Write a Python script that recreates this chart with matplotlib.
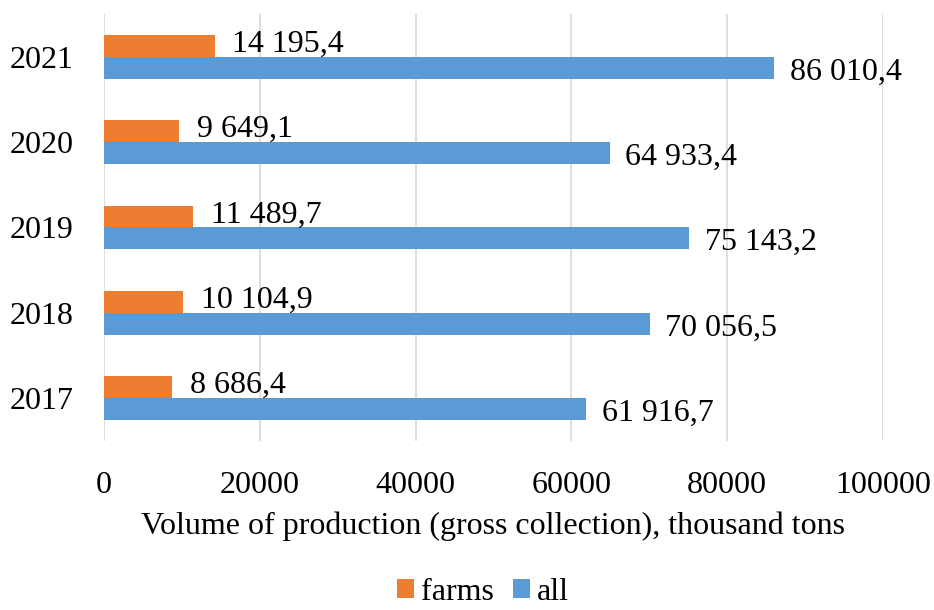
import matplotlib
matplotlib.use("Agg")
import matplotlib.pyplot as plt
import numpy as np

years = ["2017", "2018", "2019", "2020", "2021"]
farms = [8686.4, 10104.9, 11489.7, 9649.1, 14195.4]
all_vals = [61916.7, 70056.5, 75143.2, 64933.4, 86010.4]
xticks = [0, 20000, 40000, 60000, 80000, 100000]

ORANGE = "#ED7D31"
BLUE = "#5B9BD5"

plt.rcParams["font.family"] = ["Liberation Serif", "DejaVu Serif"]


def fmt(v):
    s = f"{v:,.1f}"
    return s.replace(",", " ").replace(".", ",")


fig = plt.figure(figsize=(9.34, 6.10), dpi=100)
ax = fig.add_axes([0.1113, 0.2777, 0.8341, 0.6987])

y = np.arange(len(years))
h = 0.257
ax.barh(y + h / 2, farms, height=h, color=ORANGE, label="farms", zorder=3)
ax.barh(y - h / 2, all_vals, height=h, color=BLUE, label="all", zorder=3)

FS = 23
for yi, v in zip(y, farms):
    ax.text(v + 2300, yi + h / 2 + 0.02, fmt(v), va="center", ha="left", fontsize=FS, zorder=4)
for yi, v in zip(y, all_vals):
    ax.text(v + 2000, yi - h / 2 - 0.05, fmt(v), va="center", ha="left", fontsize=FS, zorder=4)

ax.set_xlim(0, 100000)
ax.set_ylim(-0.5, len(years) - 0.5)
ax.set_xticks(xticks)
ax.set_xticklabels([str(t) for t in xticks])
ax.set_yticks(y)
ax.set_yticklabels(years)
ax.tick_params(axis="both", length=0, labelsize=FS)
ax.tick_params(axis="x", pad=22)
ax.tick_params(axis="y", pad=22)
ax.grid(axis="x", color="#d9d9d9", linewidth=1.2, zorder=0)
for s in ax.spines.values():
    s.set_visible(False)

ax.set_xlabel("Volume of production (gross collection), thousand tons", fontsize=FS, labelpad=8)

fig.legend(loc="lower center", bbox_to_anchor=(0.517, -0.042), ncol=2, frameon=False,
           fontsize=FS, handlelength=0.55, handleheight=0.55, handletextpad=0.2,
           columnspacing=0.6)

plt.savefig("out.png", dpi=100)
